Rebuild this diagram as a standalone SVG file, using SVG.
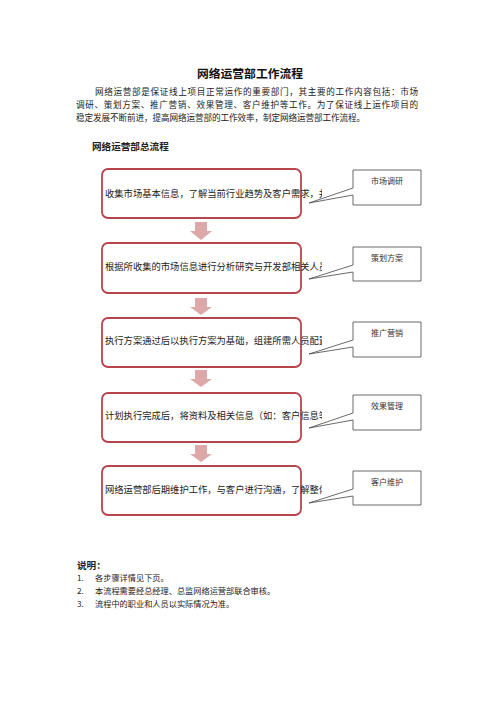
<svg xmlns="http://www.w3.org/2000/svg" width="500" height="708" viewBox="0 0 500 708">
<style>
.title{font-family:"Noto Sans CJK SC",sans-serif;font-weight:bold;font-size:11.8px;fill:#111}
.para{font-family:"Noto Sans CJK SC",sans-serif;font-size:8.6px;fill:#222}
.head{font-family:"Noto Sans CJK SC",sans-serif;font-weight:bold;font-size:9.6px;fill:#222}
.box{fill:#fff;stroke:#b8454b;stroke-width:1.8}
.btxt{font-family:"Noto Sans CJK SC",sans-serif;font-size:9.3px;fill:#222}
.call{fill:#fff;stroke:#444;stroke-width:0.8}
.ctxt{font-family:"Noto Sans CJK SC",sans-serif;font-size:8px;fill:#333;text-anchor:middle}
.arrow{fill:#dda9a8}
.note{font-family:"Noto Sans CJK SC",sans-serif;font-size:8.2px;fill:#222}
</style>
<defs>
<clipPath id="clip"><rect x="100" y="150" width="222" height="380"/></clipPath>
</defs>
<rect width="500" height="708" fill="#fff"/>
<text class="title" x="250" y="78" text-anchor="middle">网络运营部工作流程</text>
<text class="para" x="95" y="95" textLength="323" lengthAdjust="spacing">网络运营部是保证线上项目正常运作的重要部门，其主要的工作内容包括：市场</text>
<text class="para" x="76" y="108" textLength="342" lengthAdjust="spacing">调研、策划方案、推广营销、效果管理、客户维护等工作。为了保证线上运作项目的</text>
<text class="para" x="76" y="121" textLength="289" lengthAdjust="spacing">稳定发展不断前进，提高网络运营部的工作效率，制定网络运营部工作流程。</text>
<text class="head" x="92" y="150">网络运营部总流程</text>

<g id="connectors">
<path class="arrow" d="M195,222 H207 V231 H212 L201,240 L190,231 H195 Z"/>
<path class="arrow" d="M195,298 H207 V307 H212 L201,315 L190,307 H195 Z"/>
<path class="arrow" d="M195,370 H207 V379 H212 L201,387 L190,379 H195 Z"/>
<path class="arrow" d="M195,445 H207 V454 H212 L201,462 L190,454 H195 Z"/>
</g>

<g id="step1">
<rect class="box" x="102" y="169" width="199" height="49" rx="6"/>
<text class="btxt" x="105" y="197" clip-path="url(#clip)">收集市场基本信息，了解当前行业趋势及客户需求，并</text>
</g>
<g id="step2">
<rect class="box" x="102" y="243" width="199" height="50" rx="6"/>
<text class="btxt" x="105" y="269.5" clip-path="url(#clip)">根据所收集的市场信息进行分析研究与开发部相关人员</text>
</g>
<g id="step3">
<rect class="box" x="102" y="318" width="199" height="49" rx="6"/>
<text class="btxt" x="105" y="343.5" clip-path="url(#clip)">执行方案通过后以执行方案为基础，组建所需人员配置</text>
</g>
<g id="step4">
<rect class="box" x="102" y="393" width="199" height="49" rx="6"/>
<text class="btxt" x="105" y="418.5" clip-path="url(#clip)">计划执行完成后，将资料及相关信息（如：客户信息等</text>
</g>
<g id="step5">
<rect class="box" x="102" y="466" width="199" height="49" rx="6"/>
<text class="btxt" x="105" y="492.5" clip-path="url(#clip)">网络运营部后期维护工作，与客户进行沟通，了解整体</text>
</g>

<g id="callout1">
<path class="call" d="M353,170 H421 V205 H353 V195 L309,203 L353,188 Z"/>
<text class="ctxt" x="387" y="184">市场调研</text>
</g>
<g id="callout2">
<path class="call" d="M353,247 H421 V281 H353 V272 L309,279 L353,265 Z"/>
<text class="ctxt" x="387" y="261">策划方案</text>
</g>
<g id="callout3">
<path class="call" d="M353,322 H421 V357 H353 V347 L309,354 L353,340 Z"/>
<text class="ctxt" x="387" y="336">推广营销</text>
</g>
<g id="callout4">
<path class="call" d="M353,395 H421 V430 H353 V420 L309,428 L353,413 Z"/>
<text class="ctxt" x="387" y="409">效果管理</text>
</g>
<g id="callout5">
<path class="call" d="M353,471 H421 V505 H353 V496 L309,503 L353,489 Z"/>
<text class="ctxt" x="387" y="485">客户维护</text>
</g>

<text class="head" x="77" y="569">说明：</text>
<text class="note" x="77" y="581">1.</text>
<text class="note" x="95" y="581">各步骤详情见下页。</text>
<text class="note" x="77" y="594">2.</text>
<text class="note" x="95" y="594">本流程需要经总经理、总监网络运营部联合审核。</text>
<text class="note" x="77" y="607">3.</text>
<text class="note" x="95" y="607">流程中的职业和人员以实际情况为准。</text>
</svg>
